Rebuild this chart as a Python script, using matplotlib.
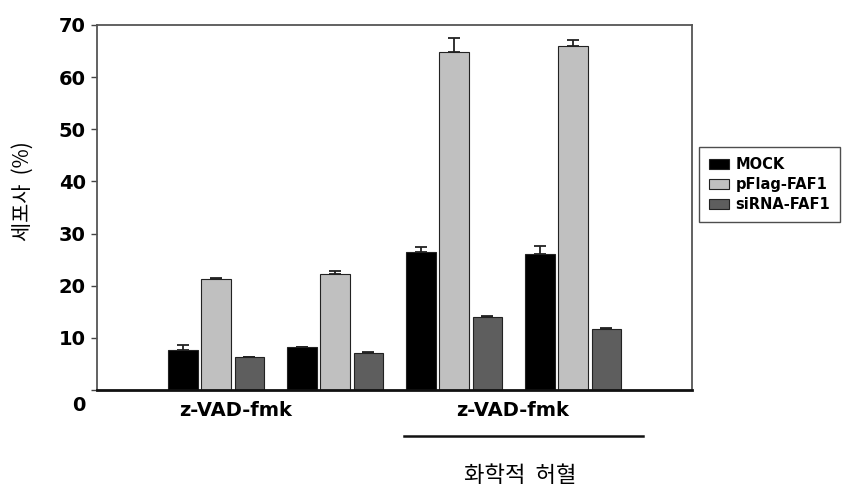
import numpy as np
import matplotlib.pyplot as plt
from matplotlib.transforms import ScaledTranslation

plt.rcParams['font.family'] = ['DejaVu Sans', 'Noto Sans CJK KR']

series = ['MOCK', 'pFlag-FAF1', 'siRNA-FAF1']
colors = ['#000000', '#c0c0c0', '#5e5e5e']
mock = [7.7, 8.2, 26.5, 26.0]
pflag = [21.3, 22.3, 64.8, 66.0]
sirna = [6.3, 7.1, 14.0, 11.7]
mock_err = [1.0, 0.1, 0.9, 1.7]
pflag_err = [0.2, 0.5, 2.8, 1.2]
sirna_err = [0.1, 0.2, 0.2, 0.2]
group_labels = ['z-VAD-fmk', 'z-VAD-fmk']
label_pos = [0.16, 2.49]
under_label = '화학적  허혈'

fig = plt.figure(figsize=(8.46, 4.92), dpi=100)
ax = fig.add_axes([0.1147, 0.2073, 0.7033, 0.7419])

x = np.arange(len(mock))
w = 0.245
step = 0.278
for i, (vals, errs) in enumerate([(mock, mock_err), (pflag, pflag_err), (sirna, sirna_err)]):
    ax.bar(x + (i - 1) * step, vals, w, color=colors[i], edgecolor='#222222',
           linewidth=0.8, label=series[i], zorder=2)
    ax.errorbar(x + (i - 1) * step, vals, yerr=[np.zeros(len(errs)), errs],
                fmt='none', ecolor='#222222', elinewidth=1.3, capsize=4.5,
                capthick=1.3, zorder=3)

ax.set_xlim(-1, 4)
ax.set_ylim(0, 70)
ax.set_yticks(range(0, 71, 10))
ax.tick_params(axis='y', length=4, width=1, labelsize=14, pad=4, color='#444444')
for t in ax.get_yticklabels():
    t.set_fontweight('bold')
# the zero label sits a bit below its tick in the original
zl = ax.get_yticklabels()[0]
zl.set_transform(zl.get_transform() + ScaledTranslation(0, -13 / 100, fig.dpi_scale_trans))

ax.set_xticks(label_pos)
ax.set_xticklabels(group_labels, fontsize=14, fontweight='bold')
ax.tick_params(axis='x', length=0, pad=8)

for s in ['top', 'right', 'left']:
    ax.spines[s].set_color('#555555')
    ax.spines[s].set_linewidth(1.3)
ax.spines['bottom'].set_color('#111111')
ax.spines['bottom'].set_linewidth(2)

ax.set_ylabel('세포사  (%)', fontsize=15, family=['Noto Sans CJK KR', 'DejaVu Sans'])
ax.yaxis.set_label_coords(-0.106, 0.545)

trans = ax.get_xaxis_transform()
ax.plot([1.58, 3.59], [-0.126, -0.126], color='#111111', lw=1.8,
        transform=trans, clip_on=False)
ax.text(2.56, -0.233, under_label, transform=trans, ha='center', va='center',
        fontsize=16, family=['Noto Sans CJK KR', 'DejaVu Sans'])

leg = fig.legend(loc='upper left', bbox_to_anchor=(0.826, 0.702),
                 prop={'weight': 'bold', 'size': 10.5}, frameon=True, fancybox=False,
                 handlelength=1.4, handleheight=0.7, handletextpad=0.4,
                 labelspacing=0.35, borderpad=0.7, borderaxespad=0)
leg.get_frame().set_edgecolor('#222222')
leg.get_frame().set_linewidth(1)

fig.savefig('out.png', dpi=100)
